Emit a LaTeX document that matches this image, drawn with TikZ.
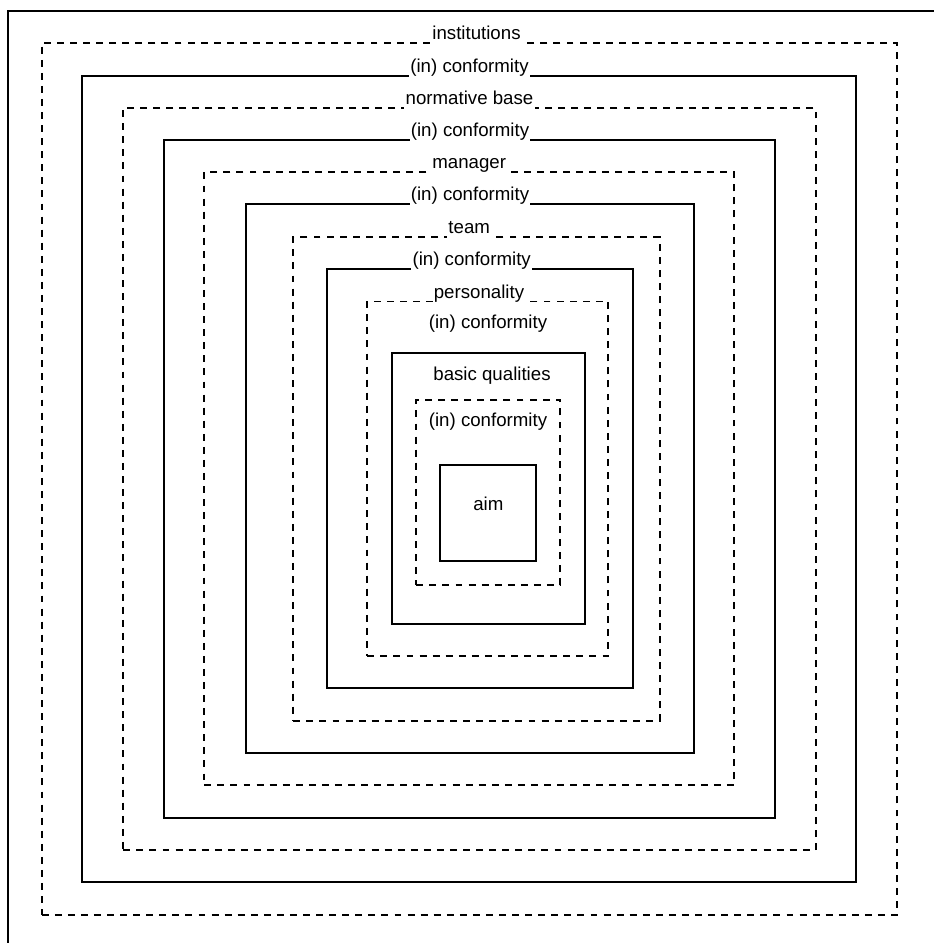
\documentclass[tikz,border=0pt]{standalone}
\usepackage{fontspec}
\setmainfont{Liberation Sans}
\usepackage{tikz}
\usetikzlibrary{fit}

\begin{document}
\begin{tikzpicture}[x=0.75pt,y=-0.75pt,font=\fontsize{14}{16.8}\selectfont,
 sbox/.style={draw,line width=1.4pt,inner sep=0pt},
 dbox/.style={draw,line width=1.4pt,dash pattern=on 5.2pt off 4.6pt,inner sep=0pt},
 lb/.style={fill=white,anchor=base,inner xsep=1pt,inner ysep=1pt,text depth=0.24em},
 tx/.style={anchor=base,inner sep=0pt}]
\useasboundingbox (0,0) rectangle (934,943);
% outer frame, cut at right and bottom
\coordinate (fb) at (8.3,943);
\coordinate (fc) at (8.3,11);
\coordinate (fr) at (934,11);
\draw[line width=1.4pt] (fb) -- (fc) -- (fr);
% nested boxes
\node[dbox,fit={(41.7,42.7) (897.3,914.7)}] (inst) {};
\node[sbox,fit={(82.3,75.7) (856.3,882.3)}] (conf1) {};
\node[dbox,fit={(123.3,107.7) (815.7,850.3)}] (norm) {};
\node[sbox,fit={(164,140) (774.7,817.7)}] (conf2) {};
\node[dbox,fit={(204.3,172.3) (734,785.3)}] (mgr) {};
\node[sbox,fit={(245.7,204.3) (693.7,753)}] (conf3) {};
\node[dbox,fit={(293.3,237.3) (659.7,720.7)}] (team) {};
\node[sbox,fit={(326.7,269) (632.7,688.3)}] (conf4) {};
\node[dbox,fit={(367.3,301.5) (608.3,656)}] (pers) {};
\node[sbox,fit={(392,353.3) (584.7,623.7)}] (qual) {};
\node[dbox,fit={(416.3,400) (560.3,585)}] (conf6) {};
\node[sbox,fit={(440,465) (536.3,561.3)}] (aim) {};
% labels on the borders
\node[lb] (inst-l) at (476.5,39.2) {institutions};
\node[lb] (conf1-l) at (469.5,72.2) {(in) conformity};
\node[lb] (norm-l) at (469.5,104.2) {normative base};
\node[lb] (conf2-l) at (470,136.5) {(in) conformity};
\node[lb] (mgr-l) at (469.2,168.8) {manager};
\node[lb] (conf3-l) at (470,200.8) {(in) conformity};
\node[lb] (team-l) at (469.2,233.8) {team};
\node[lb] (conf4-l) at (471.7,265.5) {(in) conformity};
\node[lb] (pers-l) at (479,298) {personality};
% labels inside
\node[tx] (conf5-l) at (488,328) {(in) conformity};
\node[tx] (qual-l) at (492,380.5) {basic qualities};
\node[tx] (conf6-l) at (488,426.5) {(in) conformity};
\node[tx] (aim-l) at (488.3,510.5) {aim};
\end{tikzpicture}
\end{document}
